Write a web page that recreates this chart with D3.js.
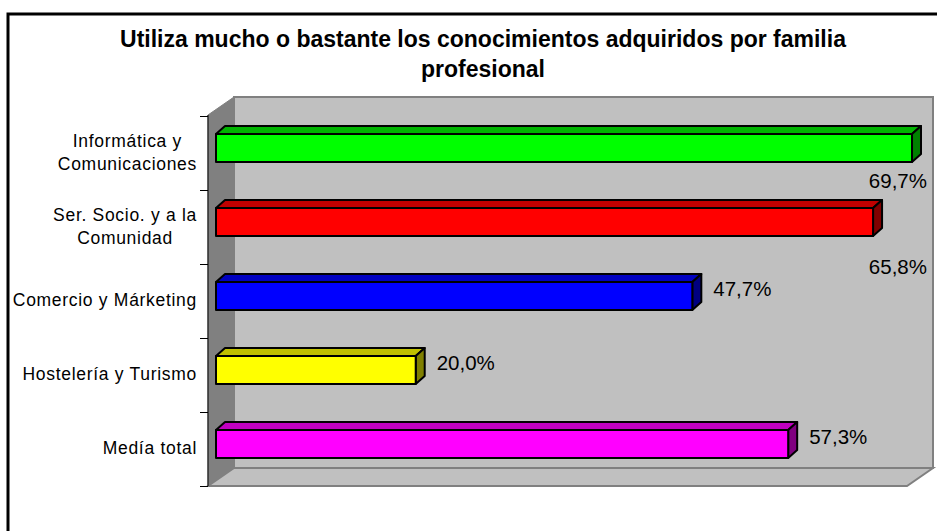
<!DOCTYPE html>
<html>
<head>
<meta charset="utf-8">
<script src="https://cdn.jsdelivr.net/npm/d3@7"></script>
<style>
  body{margin:0;background:#fff;}
  svg{display:block;}
  text{font-family:"Liberation Sans",Arial,sans-serif;fill:#000;}
</style>
</head>
<body>
<svg id="chart" width="937" height="531"></svg>
<script>
// data
var categories = [
    ["Informática y", "Comunicaciones"],
    ["Ser. Socio. y a la", "Comunidad"],
    ["Comercio y Márketing"],
    ["Hostelería y Turismo"],
    ["Medía total"]
];
var values = [69.7, 65.8, 47.7, 20.0, 57.3];
var frontColors = ["#00FF00", "#FF0000", "#0000FF", "#FFFF00", "#FF00FF"];
var topColors   = ["#00B400", "#C00000", "#0000C0", "#C0C000", "#C000C0"];
var sideColors  = ["#008000", "#800000", "#000080", "#808000", "#800080"];
var titleLines = ["Utiliza mucho o bastante los conocimientos adquiridos por familia", "profesional"];

var svg = d3.select("#chart");

// outer frame
svg.append("rect").attr("x", 8).attr("y", 14).attr("width", 960).attr("height", 560)
    .attr("fill", "#fff").attr("stroke", "#000").attr("stroke-width", 3);

// title
svg.append("text")
    .attr("x", 483).attr("y", 47)
    .attr("text-anchor", "middle")
    .style("font-weight", "bold").style("font-size", "23px")
    .selectAll("tspan").data(titleLines).enter().append("tspan")
    .attr("x", 483).attr("dy", function(d, i){ return i == 0 ? 0 : 30; })
    .text(function(d){ return d; });

// 3d geometry
var depthX = 26, depthY = 18;
var frontLeft = 208, frontTop = 115, frontBottom = 486;
var barOff = 8, barDepth = 9;

var x = d3.scaleLinear().domain([0, 70]).range([frontLeft + barOff, 907 + barOff]);
var y = d3.scaleBand().domain(d3.range(values.length)).range([frontTop + 1, frontBottom]).paddingInner(0.62).paddingOuter(0.31);
var frontRight = x(70) - barOff;

// back wall
svg.append("rect")
    .attr("x", frontLeft + depthX).attr("y", frontTop - depthY)
    .attr("width", frontRight - frontLeft).attr("height", frontBottom - frontTop)
    .attr("fill", "#C0C0C0").attr("stroke", "#808080").attr("stroke-width", 2);

// side wall
svg.append("path")
    .attr("d", ["M", frontLeft, frontTop, "L", frontLeft + depthX, frontTop - depthY,
        "V", frontBottom - depthY, "L", frontLeft, frontBottom, "Z"].join(" "))
    .attr("fill", "#808080").attr("stroke", "#808080").attr("stroke-width", 1);

// floor
svg.append("path")
    .attr("d", ["M", frontLeft, frontBottom, "L", frontLeft + depthX, frontBottom - depthY,
        "H", frontRight + depthX, "L", frontRight, frontBottom, "Z"].join(" "))
    .attr("fill", "#C0C0C0").attr("stroke", "#808080").attr("stroke-width", 2);

// category axis
svg.append("line").attr("x1", frontLeft).attr("x2", frontLeft)
    .attr("y1", frontTop).attr("y2", frontBottom)
    .attr("stroke", "#000").attr("stroke-width", 1);
var step = y.step();
svg.selectAll(".tick").data(d3.range(values.length + 1)).enter().append("line")
    .attr("x1", frontLeft - 8).attr("x2", frontLeft)
    .attr("y1", function(d){ return Math.round(frontTop + 1 + d * step) + 0.5; })
    .attr("y2", function(d){ return Math.round(frontTop + 1 + d * step) + 0.5; })
    .attr("stroke", "#000").attr("stroke-width", 1);

// category labels
var catG = svg.selectAll(".cat").data(categories).enter().append("text")
    .attr("class", "cat")
    .attr("text-anchor", "middle")
    .style("font-size", "17.5px").style("letter-spacing", "0.7px");
catG.selectAll("tspan").data(function(d, i){
        return d.map(function(t, j){ return {t: t, j: j, n: d.length, i: i}; });
    }).enter().append("tspan")
    .text(function(d){ return d.t; });
catG.each(function(d, i){
    var node = d3.select(this);
    var w = d3.max(node.selectAll("tspan").nodes(), function(n){ return n.getComputedTextLength(); });
    var cx = 197 - w / 2;
    var cy = y(i) + y.bandwidth() / 2;
    node.selectAll("tspan")
        .attr("x", cx)
        .attr("y", function(t){ return cy + 5 + (t.j - (t.n - 1) / 2) * 23; });
});

// bars
var bars = svg.selectAll(".bar").data(values).enter().append("g").attr("class", "bar");
bars.each(function(v, i){
    var g = d3.select(this);
    var x0 = x(0), x1 = x(v);
    var y0 = y(i) - 5, y1 = y0 + y.bandwidth();
    var dx = barDepth, dy = 8;
    g.append("path")
        .attr("d", ["M", x0, y0, "L", x0 + dx, y0 - dy, "H", x1 + dx, "L", x1, y0, "Z"].join(" "))
        .attr("fill", topColors[i]);
    g.append("path")
        .attr("d", ["M", x1, y0, "L", x1 + dx, y0 - dy, "V", y1 - dy, "L", x1, y1, "Z"].join(" "))
        .attr("fill", sideColors[i]);
    g.append("rect")
        .attr("x", x0).attr("y", y0).attr("width", x1 - x0).attr("height", y1 - y0)
        .attr("fill", frontColors[i]);
    g.selectAll("path,rect").attr("stroke", "#000").attr("stroke-width", 2).attr("stroke-linejoin", "round");
});

// value labels
var fmt = function(v){ return d3.format(".1f")(v).replace(".", ",") + "%"; };
svg.selectAll(".val").data(values).enter().append("text")
    .attr("class", "val")
    .style("font-size", "20.5px")
    .each(function(v, i){
        var t = d3.select(this).text(fmt(v));
        var w = this.getComputedTextLength();
        var tx = x(v) + barDepth + 12;
        var ty = y(i) + y.bandwidth() / 2 - 5;
        if(tx + w > frontRight + depthX - 4){
            // no room on the right: tuck it under the bar, against the wall
            tx = frontRight + depthX - 6 - w;
            ty = y(i) + y.bandwidth() - 5 + 26 + 12 * i;
        }
        t.attr("x", tx).attr("y", ty);
    });
</script>
</body>
</html>
